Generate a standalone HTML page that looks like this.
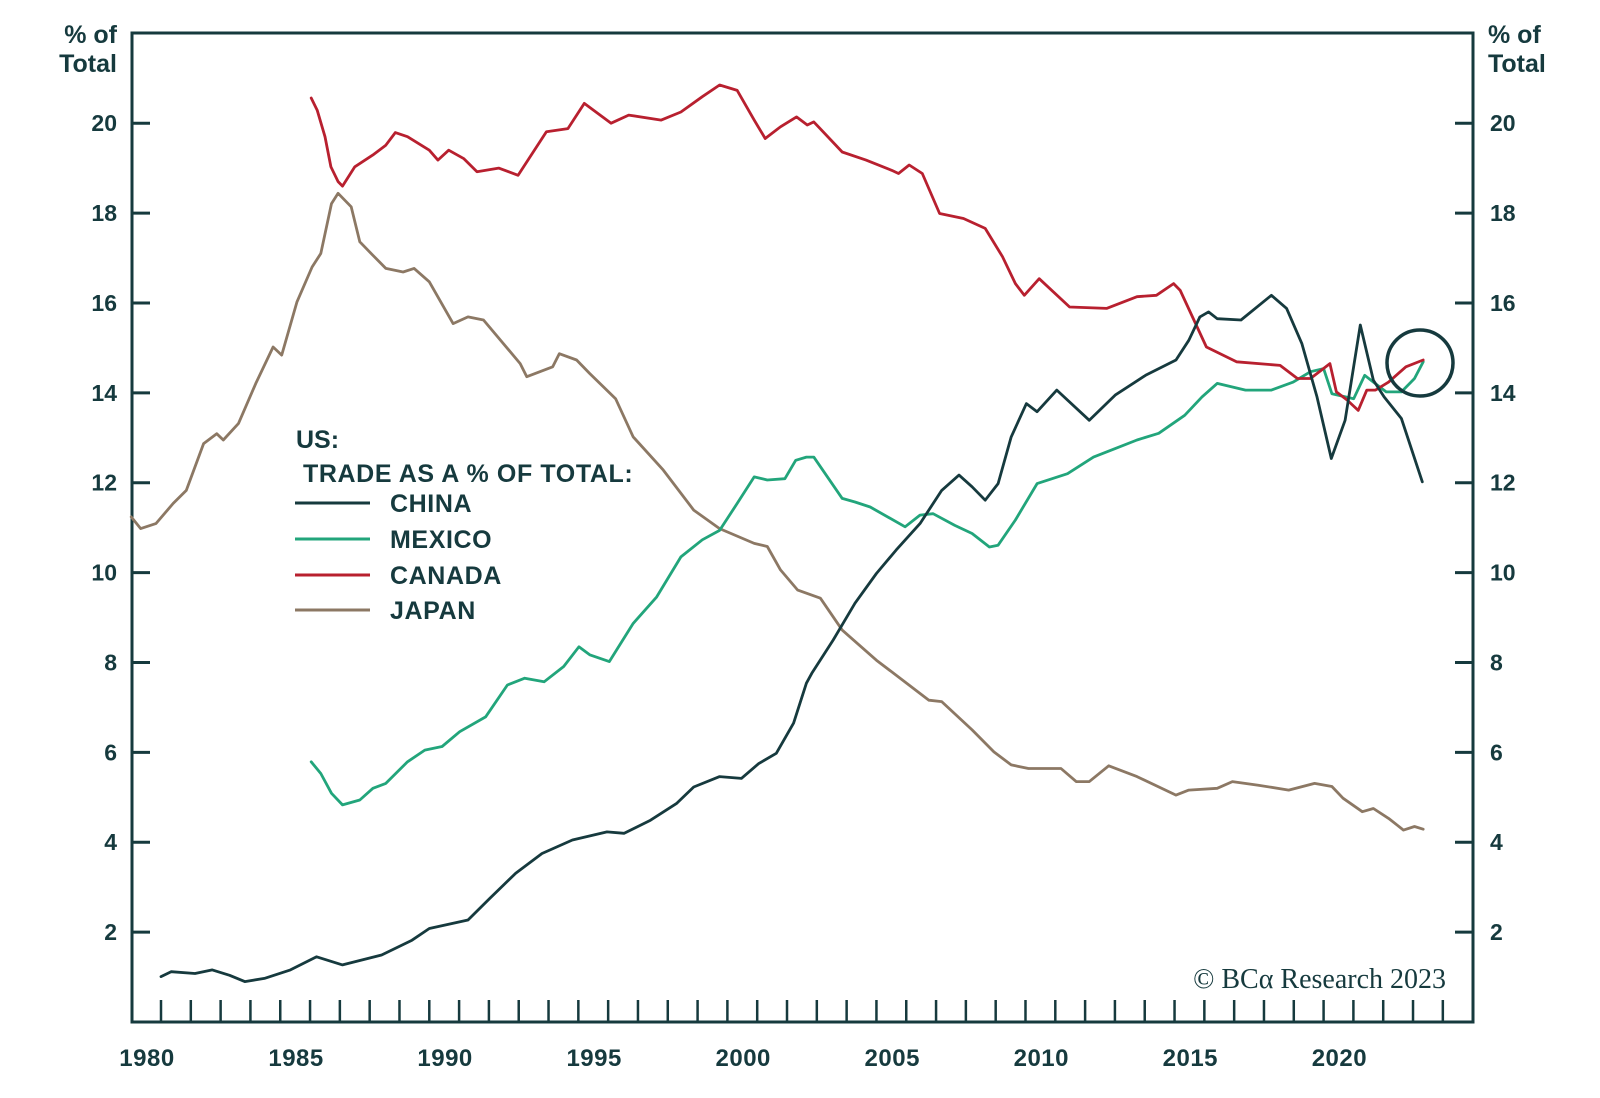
<!DOCTYPE html>
<html><head><meta charset="utf-8"><style>
html,body{margin:0;padding:0;background:#fff;}
svg{display:block;font-family:"Liberation Sans",sans-serif;}
</style></head><body>
<svg id="chart" width="1600" height="1098" viewBox="0 0 1600 1098" xmlns="http://www.w3.org/2000/svg">
<g id="axes"></g>
<g id="series"></g>
<g id="legend">
  <text x="296" y="448" font-size="25" font-weight="bold" fill="#163a3e">US:</text>
  <text x="303" y="482" font-size="25" font-weight="bold" letter-spacing="0.6" fill="#163a3e">TRADE AS A % OF TOTAL:</text>
</g>
<circle cx="1420" cy="363" r="33" fill="none" stroke="#163a3e" stroke-width="3.5"/>
<text x="1446" y="988" text-anchor="end" font-family="Liberation Serif, serif" font-size="28" fill="#163a3e">© BCα Research 2023</text>
</svg>
<script>
const yTicks=[2,4,6,8,10,12,14,16,18,20];
const xLabels=[1980,1985,1990,1995,2000,2005,2010,2015,2020];
const chinaYears=[1980.0,1980.34,1981.14,1981.72,1982.3,1982.81,1983.47,1984.34,1985.22,1986.09,1987.4,1988.42,1989.0,1990.3,1991.03,1991.9,1992.78,1993.8,1994.96,1995.54,1996.42,1997.29,1997.87,1998.74,1999.47,2000.05,2000.64,2001.22,2001.65,2001.83,2002.55,2003.28,2004.0,2004.66,2005.46,2006.19,2006.77,2007.21,2007.65,2008.08,2008.52,2009.03,2009.39,2010.05,2011.14,2012.01,2013.03,2014.05,2014.48,2014.85,2015.14,2015.43,2016.23,2017.25,2017.76,2018.27,2018.78,2019.26,2019.72,2020.23,2020.67,2021.03,2021.61,2022.31];
const chinaVals=[1.01,1.12,1.08,1.16,1.04,0.9,0.97,1.16,1.45,1.27,1.49,1.82,2.08,2.27,2.75,3.31,3.75,4.05,4.23,4.2,4.49,4.86,5.23,5.46,5.42,5.75,5.98,6.65,7.54,7.76,8.5,9.32,9.98,10.5,11.09,11.83,12.17,11.91,11.61,11.98,13.02,13.76,13.58,14.06,13.39,13.95,14.39,14.73,15.17,15.69,15.8,15.65,15.62,16.17,15.88,15.1,13.91,12.54,13.39,15.51,14.28,13.91,13.43,12.02];
const mexicoYears=[1985.04,1985.36,1985.72,1986.09,1986.67,1987.11,1987.54,1988.27,1988.85,1989.43,1990.02,1990.89,1991.62,1992.2,1992.85,1993.51,1994.02,1994.38,1995.04,1995.84,1996.63,1997.44,1998.16,1998.74,1999.33,1999.9,2000.34,2000.93,2001.29,2001.65,2001.9,2002.85,2003.28,2003.79,2004.96,2005.46,2005.9,2006.63,2007.21,2007.79,2008.08,2008.66,2009.39,2010.41,2011.28,2012.01,2012.74,2013.47,2014.34,2014.92,2015.43,2016.38,2017.25,2017.98,2018.56,2019.0,2019.28,2020.01,2020.38,2020.67,2021.1,2021.61,2022.05,2022.34];
const mexicoVals=[5.79,5.53,5.09,4.83,4.94,5.2,5.31,5.79,6.05,6.13,6.46,6.79,7.5,7.65,7.57,7.91,8.35,8.17,8.02,8.87,9.46,10.35,10.73,10.94,11.54,12.13,12.06,12.09,12.5,12.57,12.57,11.65,11.57,11.46,11.02,11.28,11.31,11.05,10.87,10.57,10.61,11.17,11.98,12.2,12.57,12.76,12.95,13.1,13.5,13.91,14.21,14.06,14.06,14.24,14.47,14.54,13.98,13.87,14.39,14.24,14.02,14.02,14.32,14.69];
const canadaYears=[1985.04,1985.24,1985.5,1985.7,1985.94,1986.09,1986.5,1987.1,1987.54,1987.86,1988.27,1989.0,1989.29,1989.65,1990.16,1990.6,1991.33,1991.98,1992.93,1993.65,1994.2,1995.1,1995.69,1996.78,1997.44,1998.16,1998.74,1999.33,1999.9,2000.27,2000.78,2001.32,2001.68,2001.9,2002.85,2003.65,2004.52,2004.74,2005.1,2005.54,2006.12,2006.92,2007.65,2008.23,2008.66,2008.96,2009.46,2010.48,2011.72,2012.74,2013.39,2013.97,2014.19,2015.07,2016.08,2017.54,2018.12,2018.56,2019.21,2019.43,2019.79,2020.16,2020.45,2020.74,2021.18,2021.76,2022.34];
const canadaVals=[20.56,20.29,19.7,19.03,18.7,18.6,19.03,19.29,19.51,19.79,19.7,19.4,19.18,19.4,19.21,18.92,19.0,18.84,19.81,19.88,20.44,20.0,20.18,20.07,20.25,20.59,20.85,20.73,20.07,19.66,19.92,20.14,19.96,20.03,19.36,19.18,18.95,18.88,19.07,18.88,17.99,17.88,17.66,17.03,16.43,16.17,16.54,15.91,15.88,16.14,16.17,16.43,16.28,15.02,14.69,14.61,14.32,14.32,14.65,14.02,13.84,13.61,14.06,14.06,14.24,14.58,14.73];
const japanYears=[1979.0,1979.32,1979.83,1980.41,1980.85,1981.43,1981.87,1982.09,1982.6,1983.18,1983.76,1984.05,1984.56,1985.07,1985.36,1985.72,1985.94,1986.38,1986.67,1987.11,1987.54,1988.12,1988.49,1989.0,1989.8,1990.3,1990.82,1992.05,1992.27,1993.14,1993.36,1993.94,1994.38,1995.25,1995.84,1996.85,1997.87,1998.74,1999.9,2000.34,2000.78,2001.36,2002.12,2002.85,2004.0,2005.76,2006.19,2007.21,2007.94,2008.52,2009.1,2010.19,2010.7,2011.14,2011.79,2012.74,2014.05,2014.48,2015.43,2015.94,2016.81,2017.83,2018.7,2019.28,2019.65,2020.3,2020.67,2021.18,2021.68,2022.05,2022.34];
const japanVals=[11.24,10.98,11.09,11.54,11.83,12.87,13.09,12.95,13.32,14.21,15.02,14.84,16.02,16.8,17.1,18.21,18.44,18.14,17.36,17.06,16.77,16.69,16.77,16.47,15.54,15.69,15.62,14.65,14.36,14.58,14.87,14.73,14.43,13.87,13.02,12.28,11.39,10.98,10.65,10.58,10.06,9.61,9.43,8.72,8.05,7.16,7.13,6.5,6.01,5.72,5.64,5.64,5.35,5.35,5.7,5.46,5.05,5.16,5.2,5.35,5.27,5.16,5.31,5.24,4.98,4.68,4.75,4.53,4.27,4.35,4.29];

const NS='http://www.w3.org/2000/svg';
const INK='#163a3e';
const L=132,R=1473,T=33,B=1022;
function xs(yr){return 161+(yr-1980)*29.81;}
function ys(v){return B-v*44.94;}
function mk(tag,attrs,parent){const e=document.createElementNS(NS,tag);for(const k in attrs)e.setAttribute(k,attrs[k]);parent.appendChild(e);return e;}
const axes=document.getElementById('axes');
const frame=mk('rect',{x:L,y:T,width:R-L,height:B-T,fill:'none',stroke:INK,'stroke-width':3},axes);


yTicks.forEach(v=>{
  const y=ys(v);
  const t1=mk('line',{x1:L,x2:L+18,y1:y,y2:y,stroke:INK,'stroke-width':3},axes);
  
  
  const t2=mk('line',{x1:R-18,x2:R,y1:y,y2:y,stroke:INK,'stroke-width':3},axes);
  
  
  const a=mk('text',{x:117,y:y+8,'text-anchor':'end','font-size':23,'font-weight':'bold',fill:INK},axes);
  a.textContent=v;
  
  
  const b=mk('text',{x:1490,y:y+8,'text-anchor':'start','font-size':23,'font-weight':'bold',fill:INK},axes);
  b.textContent=v;
  
  
});
for(let yr=1980;yr<=2023;yr++){
  const x=xs(yr);
  const t=mk('line',{x1:x,x2:x,y1:B-22,y2:B,stroke:INK,'stroke-width':2.5},axes);
  
  
}
xLabels.forEach(yr=>{
  const t=mk('text',{x:xs(yr)-14,y:1066,'text-anchor':'middle','font-size':24,'font-weight':'bold','letter-spacing':0.5,fill:INK},axes);
  t.textContent=yr;
  
  
});
[['% of',43],['Total',72]].forEach(([s,y])=>{
  const a=mk('text',{x:117,y:y,'text-anchor':'end','font-size':25,'font-weight':'bold',fill:INK},axes);
  a.textContent=s;
  
  
  const b=mk('text',{x:1488,y:y,'text-anchor':'start','font-size':25,'font-weight':'bold',fill:INK},axes);
  b.textContent=s;
  
  
});
const ser=document.getElementById('series');
const defs=[
  ['japan',japanYears,japanVals,'#8c7864','JAPAN',610],
  ['mexico',mexicoYears,mexicoVals,'#22a57b','MEXICO',539],
  ['canada',canadaYears,canadaVals,'#b8202f','CANADA',575],
  ['china',chinaYears,chinaVals,INK,'CHINA',503]
];
defs.forEach(([n,yrs,vals,col,lab,ly])=>{
  const d=yrs.map((yr,i)=>(i?'L':'M')+xs(yr).toFixed(1)+','+ys(vals[i]).toFixed(1)).join(' ');
  const p=mk('path',{d:d,fill:'none',stroke:col,'stroke-width':2.8,'stroke-linejoin':'round','stroke-linecap':'round'},ser);
  
  
});
const leg=document.getElementById('legend');
defs.forEach(([n,yrs,vals,col,lab,ly])=>{
  const l=mk('line',{x1:295,x2:370,y1:ly,y2:ly,stroke:col,'stroke-width':3},leg);
  
  
  const t=mk('text',{x:390,y:ly+9,'font-size':25,'font-weight':'bold','letter-spacing':0.6,fill:INK},leg);
  t.textContent=lab;
  
  
});
</script>
</body></html>
